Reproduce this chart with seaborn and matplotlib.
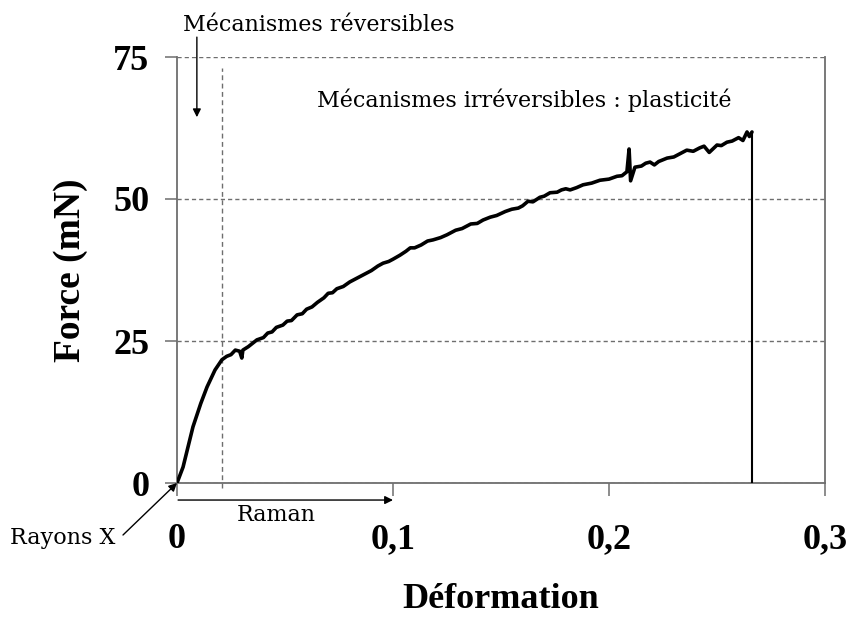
import matplotlib
matplotlib.use("Agg")
import matplotlib.pyplot as plt
import seaborn as sns

# Force-strain curve of the tensile test (strain, force in mN)
strain = [0.0, 0.0028, 0.0074, 0.0110, 0.0139, 0.0176, 0.0208, 0.0230, 0.0250,
          0.0270, 0.0290, 0.0300, 0.0305, 0.0330, 0.0370, 0.0400, 0.0420, 0.0440,
          0.0460, 0.0490, 0.0510, 0.0530, 0.0556, 0.0580, 0.0600, 0.0625, 0.0650,
          0.0680, 0.0700, 0.0720, 0.0740, 0.0770, 0.0800, 0.0830, 0.0850, 0.0880,
          0.0900, 0.0930, 0.0954, 0.0980, 0.1000, 0.1032, 0.1060, 0.1080, 0.1100,
          0.1130, 0.1160, 0.1185, 0.1220, 0.1250, 0.1290, 0.1320, 0.1360, 0.1390,
          0.1417, 0.1450, 0.1480, 0.1520, 0.1550, 0.1580, 0.1600, 0.1625, 0.1648,
          0.1680, 0.1700, 0.1727, 0.1760, 0.1780, 0.1800, 0.1820, 0.1850, 0.1880,
          0.1920, 0.1958, 0.2000, 0.2037, 0.2060, 0.2083, 0.2093, 0.2100, 0.2120,
          0.2150, 0.2170, 0.2190, 0.2210, 0.2230, 0.2269, 0.2300, 0.2330, 0.2360,
          0.2390, 0.2420, 0.2440, 0.2464, 0.2500, 0.2520, 0.2546, 0.2570, 0.2600,
          0.2620, 0.2639, 0.2650, 0.2662]
force = [0.0, 2.8, 9.9, 14.0, 16.9, 19.9, 21.7, 22.3, 22.6,
         23.4, 23.2, 22.0, 23.4, 24.0, 25.2, 25.6, 26.4, 26.6,
         27.4, 27.8, 28.5, 28.6, 29.6, 29.8, 30.6, 31.0, 31.8,
         32.6, 33.4, 33.5, 34.2, 34.6, 35.4, 36.0, 36.4, 37.0,
         37.4, 38.2, 38.7, 39.0, 39.4, 40.1, 40.8, 41.4, 41.4,
         41.9, 42.6, 42.8, 43.2, 43.7, 44.5, 44.8, 45.6, 45.7,
         46.3, 46.8, 47.1, 47.8, 48.2, 48.4, 48.8, 49.6, 49.5,
         50.3, 50.5, 51.1, 51.2, 51.6, 51.8, 51.6, 52.0, 52.5,
         52.8, 53.3, 53.5, 54.0, 54.1, 54.8, 58.8, 53.2, 55.6,
         55.8, 56.3, 56.5, 56.0, 56.6, 57.2, 57.4, 58.0, 58.6,
         58.4, 59.0, 59.3, 58.2, 59.5, 59.4, 60.0, 60.2, 60.8,
         60.3, 61.8, 61.0, 61.8]

x_ticks = [0.0, 0.1, 0.2, 0.3]
x_tick_labels = ["0", "0,1", "0,2", "0,3"]
y_ticks = [0, 25, 50, 75]
y_tick_labels = ["0", "25", "50", "75"]
elastic_limit = 0.0208   # end of the reversible domain
raman_range = 0.1        # strain range covered by Raman

sns.set_theme(style="white")
plt.rcParams["font.family"] = ["Liberation Serif", "DejaVu Serif"]
plt.rcParams["text.color"] = "black"
plt.rcParams["axes.labelcolor"] = "black"

fig = plt.figure(figsize=(8.5, 6.2), dpi=100)
ax = fig.add_axes([177 / 850, 1 - 483 / 620, 648 / 850, 426 / 620])

grey = "#6e6e6e"
bold_font = ["Liberation Serif"]

# Curve up to rupture, then the rupture drop
sns.lineplot(x=strain, y=force, sort=False, estimator=None, color="black",
             linewidth=2.6, ax=ax, zorder=5)
ax.plot([strain[-1], strain[-1]], [force[-1], 0], color="black",
        linewidth=1.5, zorder=5, solid_capstyle="butt")

ax.set_xlim(0, 0.3)
ax.set_ylim(0, 75)
ax.set_xticks(x_ticks)
ax.set_xticklabels(x_tick_labels)
ax.set_yticks(y_ticks)
ax.set_yticklabels(y_tick_labels)

for lab in ax.get_xticklabels() + ax.get_yticklabels():
    lab.set_family(bold_font)
    lab.set_fontweight("bold")
    lab.set_fontsize(26)
    lab.set_color("black")

ax.tick_params(axis="y", direction="out", length=9, width=1.1, color=grey,
               pad=11, left=True)
ax.tick_params(axis="x", direction="out", length=9, width=1.1, color=grey,
               pad=20, bottom=True)

# Horizontal dashed grid
ax.yaxis.grid(True, linestyle=(0, (3, 2.2)), color=grey, linewidth=1.0)
ax.xaxis.grid(False)

for side in ["left", "bottom", "right"]:
    ax.spines[side].set_visible(True)
    ax.spines[side].set_color(grey)
    ax.spines[side].set_linewidth(1.3)
ax.spines["top"].set_visible(False)

# Vertical dashed line marking the elastic limit
ax.plot([elastic_limit, elastic_limit], [-0.8, 73], linestyle=(0, (3.5, 2.5)),
        color=grey, linewidth=1.0, clip_on=False, zorder=3)

ax.set_xlabel("Déformation", fontsize=26, fontweight="bold",
              family=bold_font, labelpad=19, color="black")
ax.set_ylabel("Force (mN)", fontsize=27, fontweight="bold",
              family=bold_font, labelpad=18, color="black")

ann_font = ["DejaVu Serif"]
ann_size = 16
arrow = dict(arrowstyle="-|>", color="black", lw=1.0, mutation_scale=12,
             shrinkA=0, shrinkB=0)

# Reversible mechanisms
fig.text(183 / 850, 1 - 25 / 620, "Mécanismes réversibles", fontsize=ann_size,
         family=ann_font, ha="left", va="center", color="black")
ax.annotate("", xy=(0.0092, 64.4), xytext=(0.0092, 78.5), xycoords="data",
            annotation_clip=False, arrowprops=arrow)
# Irreversible mechanisms
ax.text(0.0647, 67.3, "Mécanismes irréversibles : plasticité", fontsize=ann_size,
        family=ann_font, ha="left", va="center", color="black")

# Raman range arrow
ax.annotate("", xy=(raman_range, -3.0), xytext=(0.0005, -3.0), xycoords="data",
            annotation_clip=False, arrowprops=arrow)
ax.text(0.0277, -5.6, "Raman", fontsize=ann_size, family=ann_font,
        ha="left", va="center", clip_on=False, color="black")

# X-ray point at the origin
fig.text(10 / 850, 1 - 538 / 620, "Rayons X", fontsize=ann_size,
         family=ann_font, ha="left", va="center", color="black")
ax.annotate("", xy=(0, 0), xytext=(123 / 850, 1 - 535 / 620),
            xycoords="data", textcoords="figure fraction",
            annotation_clip=False, arrowprops=arrow)

fig.savefig("out.png", dpi=100)
